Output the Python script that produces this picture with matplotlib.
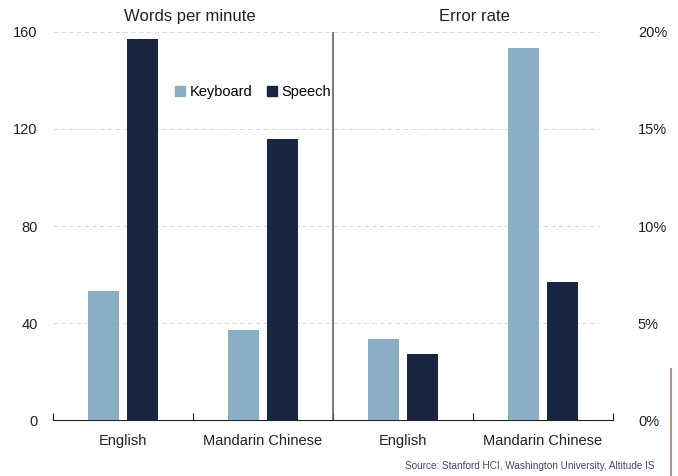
import matplotlib
matplotlib.use("Agg")
import matplotlib.pyplot as plt
from matplotlib.lines import Line2D
from matplotlib.patches import Patch
import numpy as np

plt.rcParams['font.family'] = ['Liberation Sans', 'DejaVu Sans']

languages = ['English', 'Mandarin Chinese']
wpm_keyboard = [53, 37]
wpm_speech = [157, 116]
err_keyboard = [4.2, 19.2]   # percent
err_speech = [3.4, 7.1]

KEY_COL = '#8AAFC4'
SPE_COL = '#1A2640'
width = 0.22
off = 0.14

fig = plt.figure(figsize=(6.78, 4.76), dpi=100)
ax = fig.add_axes([0.078, 0.1176, 0.826, 0.8152])
ax2 = ax.twinx()

xl = np.arange(len(languages))          # left panel
xr = np.arange(len(languages)) + 2      # right panel

ax.bar(xl - off, wpm_keyboard, width, color=KEY_COL, zorder=3)
ax.bar(xl + off, wpm_speech, width, color=SPE_COL, zorder=3)
ax2.bar(xr - off, err_keyboard, width, color=KEY_COL, zorder=3)
ax2.bar(xr + off, err_speech, width, color=SPE_COL, zorder=3)

ax.set_xlim(-0.5, 3.5)
ax.set_ylim(0, 160)
ax2.set_ylim(0, 20)
ax.set_yticks([0, 40, 80, 120, 160])
ax2.set_yticks([0, 5, 10, 15, 20])
ax2.set_yticklabels([f'{v}%' for v in [0, 5, 10, 15, 20]])

# dashed grid
for v in [40, 80, 120, 160]:
    ax.axhline(v, xmax=0.975, color='#dadada', lw=0.8, ls=(0, (4, 3)), zorder=1)

# divider between panels
ax.axvline(1.5, color='#5a6275', lw=1.2, zorder=4)

for a in (ax, ax2):
    for s in ['left', 'right', 'top']:
        a.spines[s].set_visible(False)
    a.tick_params(axis='y', length=0, labelsize=10.5, colors='#222222')
ax.spines['bottom'].set_color('#222222')
ax2.spines['bottom'].set_visible(False)
ax.tick_params(axis='y', pad=11)
ax2.tick_params(axis='y', pad=18)

ax.set_xticks([-0.5, 0.5, 1.5, 2.5, 3.5])
ax.set_xticklabels([])
ax.tick_params(axis='x', which='major', direction='in', length=5, color='#222222')
ax.set_xticks([0, 1, 2, 3], minor=True)
ax.set_xticklabels(languages + languages, minor=True, fontsize=10.5, color='#222222')
ax.tick_params(axis='x', which='minor', length=0, pad=10)

fig.text(0.28, 0.966, 'Words per minute', ha='center', va='center', fontsize=12, color='#222222')
fig.text(0.70, 0.966, 'Error rate', ha='center', va='center', fontsize=12, color='#222222')

handles = [Patch(color=KEY_COL, label='Keyboard'), Patch(color=SPE_COL, label='Speech')]
ax.legend(handles=handles, loc='center', bbox_to_anchor=(0.357, 0.845), ncol=2, frameon=False,
          fontsize=10.5, handlelength=0.7, handleheight=0.7, handletextpad=0.3, columnspacing=1.0)

fig.text(0.966, 0.02, 'Source: Stanford HCI, Washington University, Altitude IS',
         ha='right', va='center', fontsize=7.2, color='#3b4a6b')

fig.add_artist(Line2D([0.99, 0.99], [0.0, 0.225], color='#a89888', lw=1.5, transform=fig.transFigure))

fig.savefig('out.png', dpi=100)
